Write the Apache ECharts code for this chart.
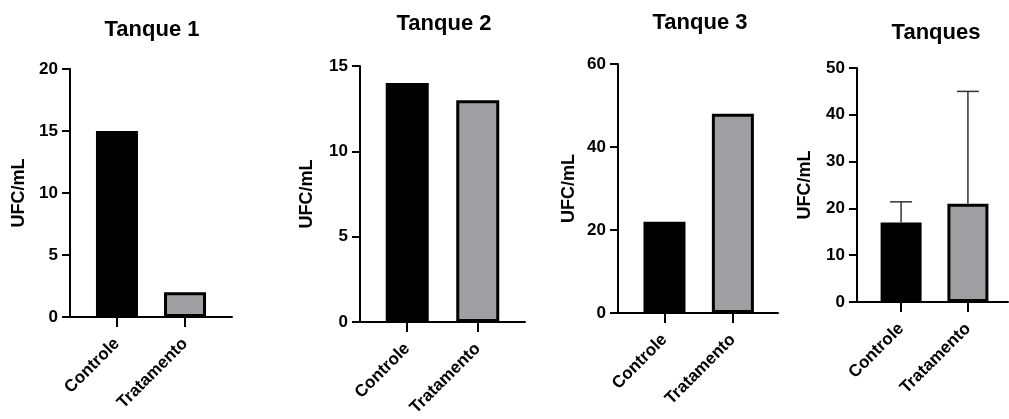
<!DOCTYPE html>
<html>
<head>
<meta charset="utf-8">
<script src="https://cdn.jsdelivr.net/npm/echarts@6/dist/echarts.min.js"></script>
<style>
  html, body { margin: 0; padding: 0; background: #fff; }
  #chart { width: 1009px; height: 419px; }
</style>
</head>
<body>
<div id="chart"></div>
<script>
// Groups shown on every panel
const categories = ['Controle', 'Tratamento'];
const panelTitles = ['Tanque 1', 'Tanque 2', 'Tanque 3', 'Tanques'];
const yAxisName = 'UFC/mL';

// UFC/mL per tank
const tanque1 = [15, 2];
const tanque2 = [14, 13];
const tanque3 = [22, 48];
// Pooled tanks: mean and upper error
const tanquesMean = [17, 21];
const tanquesErr = [4.4, 24];

// Y axis ranges and tick steps per panel
const yMax = [20, 15, 60, 50];
const yStep = [5, 5, 20, 10];

const panelValues = [tanque1, tanque2, tanque3, tanquesMean];

// Panel geometry (pixels) and x-range around the two bar slots (0 and 1)
const layout = [
  { left: 70,  right: 232,  top: 69, bottom: 317, xMin: -0.69, xMax: 1.69, barW: 42, nameGap: 42, titleX: 152, titleY: 19 },
  { left: 360, right: 525,  top: 66, bottom: 322, xMin: -0.67, xMax: 1.67, barW: 43, nameGap: 44, titleX: 444, titleY: 13 },
  { left: 618, right: 778,  top: 64, bottom: 313, xMin: -0.68, xMax: 1.66, barW: 42, nameGap: 40, titleX: 700, titleY: 12 },
  { left: 857, right: 1008, top: 68, bottom: 302, xMin: -0.66, xMax: 1.60, barW: 41, nameGap: 43, titleX: 936, titleY: 22 }
];

const FONT = 'Liberation Sans, Arial, Helvetica, sans-serif';
const axisLine = { color: '#000', width: 2 };

const barStyles = [
  { color: '#000000', borderColor: '#000', borderWidth: 3 },
  { color: '#a0a0a2', borderColor: '#000', borderWidth: 3 }
];

const grids = [], xAxes = [], yAxes = [], series = [], titles = [];

layout.forEach((L, i) => {
  grids.push({ left: L.left, top: L.top, width: L.right - L.left, height: L.bottom - L.top });

  xAxes.push({
    type: 'value', gridIndex: i, min: L.xMin, max: L.xMax,
    axisLine: { show: true, onZero: false, lineStyle: axisLine },
    axisTick: { show: true, length: 10, customValues: [0, 1], lineStyle: axisLine },
    axisLabel: {
      customValues: [0, 1],
      formatter: v => categories[Math.round(v)],
      rotate: 45, margin: 24, color: '#000',
      fontSize: 17, fontWeight: 'bold', fontFamily: FONT
    },
    splitLine: { show: false }
  });

  yAxes.push({
    type: 'value', gridIndex: i, min: 0, max: yMax[i], interval: yStep[i],
    axisLine: { show: true, onZero: false, lineStyle: axisLine },
    axisTick: { show: true, length: 8, lineStyle: axisLine },
    axisLabel: { color: '#000', fontSize: 17, fontWeight: 'bold', fontFamily: FONT, margin: 12 },
    splitLine: { show: false },
    name: yAxisName, nameLocation: 'middle', nameGap: L.nameGap,
    nameTextStyle: { color: '#000', fontSize: 18, fontWeight: 'bold', fontFamily: FONT }
  });

  series.push({
    type: 'bar', xAxisIndex: i, yAxisIndex: i, barWidth: L.barW,
    data: panelValues[i].map((v, j) => ({ value: [j, v], itemStyle: barStyles[j] })),
    animation: false
  });

  titles.push({
    type: 'text', x: L.titleX, y: L.titleY,
    style: {
      text: panelTitles[i], align: 'center', verticalAlign: 'top',
      fill: '#000', font: 'bold 22px ' + FONT
    }
  });
});

// Upper error bars on the pooled panel
series.push({
  type: 'custom', xAxisIndex: 3, yAxisIndex: 3, z: 5, animation: false,
  data: tanquesMean.map((m, j) => [j, m, m + tanquesErr[j]]),
  renderItem: (params, api) => {
    const base = api.coord([api.value(0), api.value(1)]);
    const top = api.coord([api.value(0), api.value(2)]);
    const st = { stroke: '#333', lineWidth: 1.5 };
    return {
      type: 'group',
      children: [
        { type: 'line', shape: { x1: base[0], y1: base[1], x2: top[0], y2: top[1] }, style: st },
        { type: 'line', shape: { x1: top[0] - 11, y1: top[1], x2: top[0] + 11, y2: top[1] }, style: st }
      ]
    };
  }
});

const chart = echarts.init(document.getElementById('chart'), null, { renderer: 'canvas' });
chart.setOption({
  backgroundColor: '#fff',
  animation: false,
  grid: grids,
  xAxis: xAxes,
  yAxis: yAxes,
  series: series,
  graphic: titles
});
</script>
</body>
</html>
